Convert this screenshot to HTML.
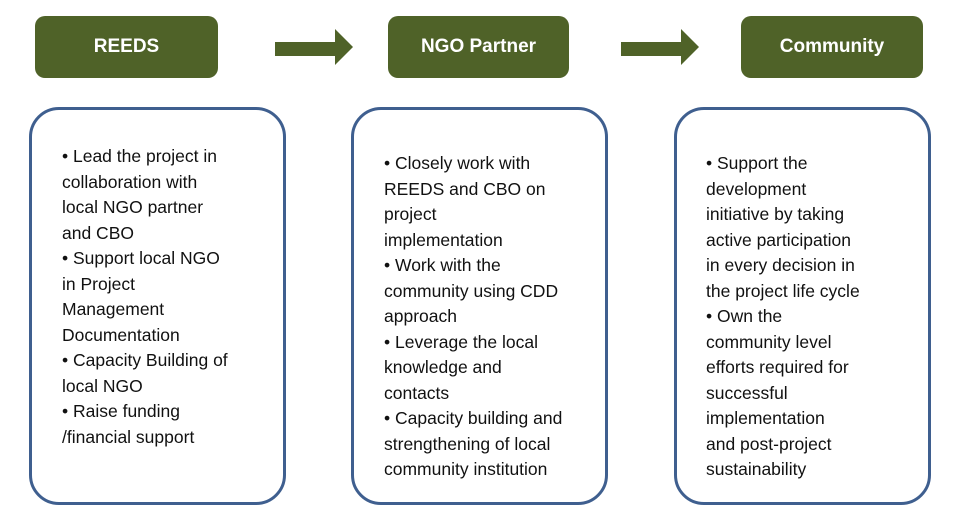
<!DOCTYPE html>
<html><head><meta charset="utf-8"><style>
body{margin:0;width:957px;height:525px;background:#fff;position:relative;overflow:hidden;font-family:"Liberation Sans",sans-serif}
.h{position:absolute;top:16px;height:62px;background:#4f6228;border-radius:10px;color:#fff;font-weight:bold;font-size:19px;display:flex;align-items:center;justify-content:center}
.b{position:absolute;top:107px;height:398px;border:3px solid #3f5f8f;border-radius:30px;box-sizing:border-box;width:257px}
.t{position:absolute;font-size:17.5px;line-height:25.5px;color:#111;white-space:nowrap}
svg{position:absolute;left:0;top:0}
</style></head><body>
<div class="h" style="left:35px;width:183px">REEDS</div>
<div class="h" style="left:388px;width:181px">NGO Partner</div>
<div class="h" style="left:741px;width:182px">Community</div>
<svg width="957" height="100"><polygon points="275,42 335,42 335,29 353,47 335,65 335,56 275,56" fill="#4f6228"/><polygon points="621,42 681,42 681,29 699,47 681,65 681,56 621,56" fill="#4f6228"/></svg>
<div class="b" style="left:29px"></div>
<div class="b" style="left:351px"></div>
<div class="b" style="left:674px"></div>
<div class="t" style="left:62px;top:144px">• Lead the project in<br>collaboration with<br>local NGO partner<br>and CBO<br>• Support local NGO<br>in Project<br>Management<br>Documentation<br>• Capacity Building of<br>local NGO<br>• Raise funding<br>/financial support</div>
<div class="t" style="left:384px;top:151px">• Closely work with<br>REEDS and CBO on<br>project<br>implementation<br>• Work with the<br>community using CDD<br>approach<br>• Leverage the local<br>knowledge and<br>contacts<br>• Capacity building and<br>strengthening of local<br>community institution</div>
<div class="t" style="left:706px;top:151px">• Support the<br>development<br>initiative by taking<br>active participation<br>in every decision in<br>the project life cycle<br>• Own the<br>community level<br>efforts required for<br>successful<br>implementation<br>and post-project<br>sustainability</div>
</body></html>
